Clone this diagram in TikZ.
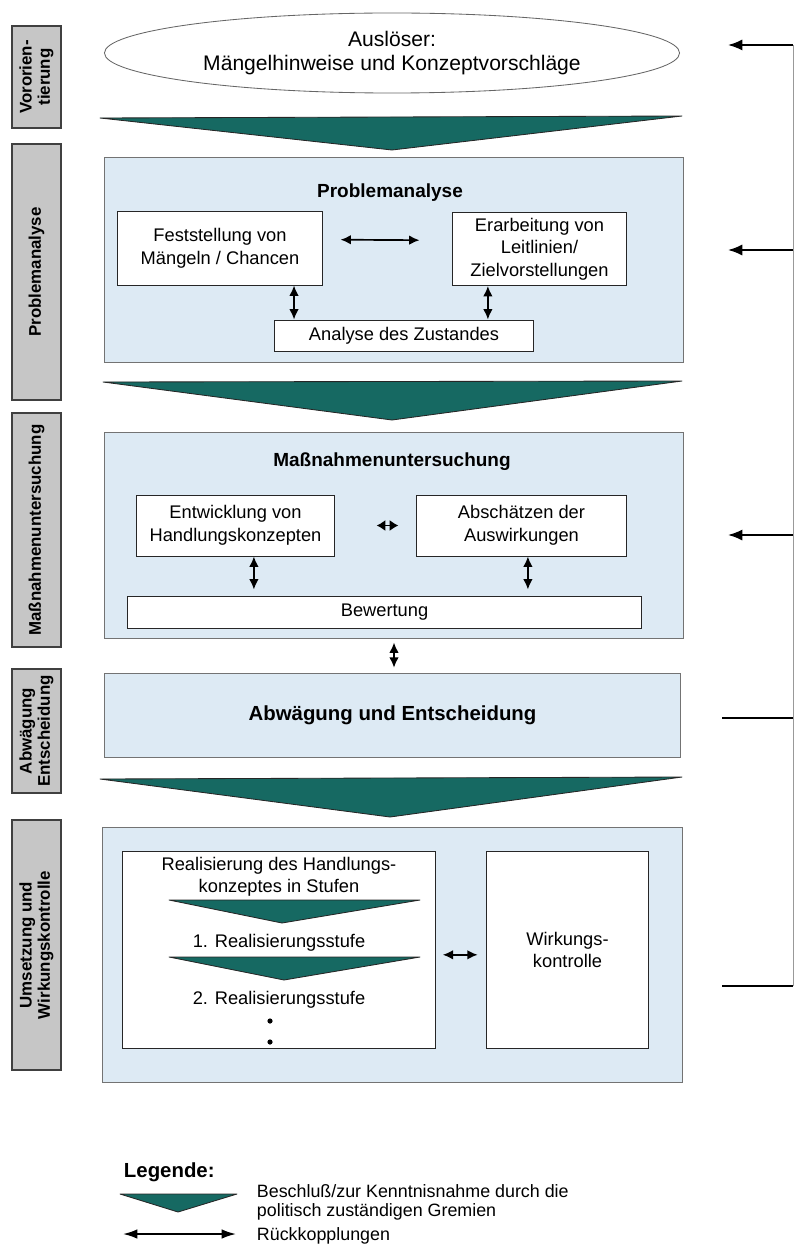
\documentclass[tikz,border=0pt]{standalone}
\usepackage{fontspec}
\setmainfont{Liberation Sans}
\usepackage{xcolor}
\usepackage{tikz}
\usetikzlibrary{shapes.geometric, arrows.meta, positioning}
\definecolor{tealfill}{RGB}{22,105,98}
\definecolor{phasefill}{RGB}{221,234,244}
\definecolor{sidefill}{RGB}{198,198,198}
\tikzset{
  sidebox/.style={rectangle, draw=black!75, fill=sidefill, line width=0.8pt, rotate=90, minimum height=1.225cm, inner sep=1pt, align=center, font=\bfseries\fontsize{12}{13}\selectfont},
  phase/.style={rectangle, draw=black!55, fill=phasefill, line width=0.7pt},
  item/.style={rectangle, draw=black!85, fill=white, line width=0.7pt, align=center, font=\fontsize{13}{16}\selectfont},
  plain/.style={align=center, font=\fontsize{13}{16}\selectfont},
  phasetitle/.style={font=\bfseries\fontsize{13.5}{16}\selectfont},
  trigger/.style={ellipse, draw=black!60, fill=white, line width=0.6pt, inner sep=0pt, align=center, font=\fontsize{15}{16.5}\selectfont},
  chevron/.style={draw=black!85, fill=tealfill, line width=0.6pt, line join=round},
  feedback/.style={line width=1.2pt, {Latex[length=2.6mm,width=2.4mm]}-{Latex[length=2.6mm,width=2.4mm]}},
  inarrow/.style={line width=1.3pt, -{Latex[length=3.6mm,width=2.8mm]}},
  legendtext/.style={align=left, anchor=west, font=\fontsize{12.7}{13.5}\selectfont}
}

\begin{document}
\begin{tikzpicture}[x=0.025cm, y=-0.025cm]
\useasboundingbox (0,0) rectangle (795,1247);

% Phase labels
\node[sidebox, minimum width=2.55cm] (sidevor) at (36.5,77) {Vororien-\\tierung};
\node[sidebox, minimum width=6.4cm] (sideprob) at (36.5,272) {Problemanalyse};
\node[sidebox, minimum width=5.85cm] (sidemass) at (36.5,530) {Maßnahmenuntersuchung};
\node[sidebox, minimum width=3.1cm] (sideabw) at (36.5,731) {Abwägung\\Entscheidung};
\node[sidebox, minimum width=6.25cm] (sideums) at (36.5,945) {Umsetzung und\\Wirkungskontrolle};

% Trigger
\node[trigger, minimum width=14.375cm, minimum height=2cm] (trigger) at (392,53) {Auslöser:\\Mängelhinweise und Konzeptvorschläge};
\filldraw[chevron] (100,118) -- (682,116) -- (392,150) -- cycle;

% Problemanalyse
\node[phase, minimum width=14.45cm, minimum height=5.1cm] (prob) at (394,260) {};
\node[phasetitle] (probtitle) at (390,193) {Problemanalyse};
\node[item, minimum width=5.1cm, minimum height=1.825cm] (fest) at (220,248.5) {Feststellung von\\Mängeln / Chancen};
\node[item, minimum width=4.325cm, minimum height=1.825cm] (erarb) at (539.5,249) {Erarbeitung von\\Leitlinien/\\Zielvorstellungen};
\node[item, minimum width=6.45cm, minimum height=0.775cm] (zustand) at (404,335.5) {Analyse des Zustandes};
\draw[feedback] ([xshift=0.45cm,yshift=0.22cm]fest.east) -- ([xshift=-0.825cm,yshift=0.22cm]erarb.west);
\draw[feedback] ([xshift=1.85cm]fest.south) -- ([xshift=1.85cm]fest.south |- zustand.north);
\draw[feedback] ([xshift=-1.29cm]erarb.south) -- ([xshift=-1.29cm]erarb.south |- zustand.north);
\filldraw[chevron] (103,382) -- (682,381) -- (392,420) -- cycle;

% Massnahmenuntersuchung
\node[phase, minimum width=14.45cm, minimum height=5.125cm] (mass) at (394,535.5) {};
\node[phasetitle] (masstitle) at (392,462) {Maßnahmenuntersuchung};
\node[item, minimum width=4.925cm, minimum height=1.525cm] (entw) at (235.5,525.5) {Entwicklung von\\Handlungskonzepten};
\node[item, minimum width=5.225cm, minimum height=1.525cm] (absch) at (521.5,525.5) {Abschätzen der\\Auswirkungen};
\node[item, minimum width=12.825cm, minimum height=0.8cm] (bewert) at (384.5,612) {Bewertung};
\draw[line width=1.4pt, {Latex[length=2.2mm,width=2.8mm]}-{Latex[length=2.2mm,width=2.8mm]}] ([xshift=1.05cm]entw.east) -- ([xshift=-0.45cm]absch.west);
\draw[feedback] ([xshift=0.46cm]entw.south) -- ([xshift=0.46cm,yshift=0.15cm]entw.south |- bewert.north);
\draw[feedback] ([xshift=0.16cm]absch.south) -- ([xshift=0.16cm,yshift=0.15cm]absch.south |- bewert.north);

% Abwaegung
\node[phase, minimum width=14.375cm, minimum height=2.1cm, font=\bfseries\fontsize{14.5}{17}\selectfont] (abw) at (392.5,715) {Abwägung und Entscheidung};
\draw[feedback] ([yshift=-0.1cm]mass.south) -- ([yshift=0.12cm]mass.south |- abw.north);
\filldraw[chevron] (100,779) -- (682,777) -- (390,817) -- cycle;

% Umsetzung und Wirkungskontrolle
\node[phase, minimum width=14.475cm, minimum height=6.35cm] (ums) at (392.5,955) {};
\node[item, minimum width=7.8cm, minimum height=4.9cm] (real) at (279,950) {};
\node[item, minimum width=4.025cm, minimum height=4.9cm] (wirk) at (567.5,950) {Wirkungs-\\kontrolle};
\node[plain] (realtext) at (279,877) {Realisierung des Handlungs-\\konzeptes in Stufen};
\filldraw[chevron] (169,900) -- (420,900) -- (282,923) -- cycle;
\node[plain] (stufe1) at (279,943) {1. Realisierungsstufe};
\filldraw[chevron] (169,957) -- (420,957) -- (284,980) -- cycle;
\node[plain] (stufe2) at (279,1000) {2. Realisierungsstufe};
\fill (270,1021) circle (2.6);
\fill (270,1042) circle (2.6);
\draw[feedback] ([xshift=0.18cm,yshift=-0.12cm]real.east) -- ([xshift=-0.22cm,yshift=-0.12cm]wirk.west);

% Feedback rail on the right
\coordinate (railtop) at (793,45);
\coordinate (railbot) at (793,986);
\draw[black!40, line width=0.6pt] (railtop) -- (railbot);
\draw[inarrow] (railtop) -- (728,45);
\draw[inarrow] (793,250) -- (728,250);
\draw[inarrow] (793,535) -- (728,535);
\draw[line width=1.3pt] (793,718) -- (722,718);
\draw[line width=1.3pt] (railbot) -- (722,986);

% Legend
\node[anchor=west, font=\bfseries\fontsize{14.5}{16}\selectfont] (legtitle) at (119,1172) {Legende:};
\filldraw[chevron] (120,1194) -- (237,1194) -- (178,1212) -- cycle;
\node[legendtext] (legchev) at (252,1202) {Beschluß/zur Kenntnisnahme durch die\\politisch zuständigen Gremien};
\coordinate (legl) at (123,1234);
\coordinate (legr) at (236,1234);
\draw[line width=1.3pt, {Latex[length=3.6mm,width=2.4mm]}-{Latex[length=3.6mm,width=2.4mm]}] (legl) -- (legr);
\node[legendtext] (legfb) at (252,1236) {Rückkopplungen};
\end{tikzpicture}
\end{document}
